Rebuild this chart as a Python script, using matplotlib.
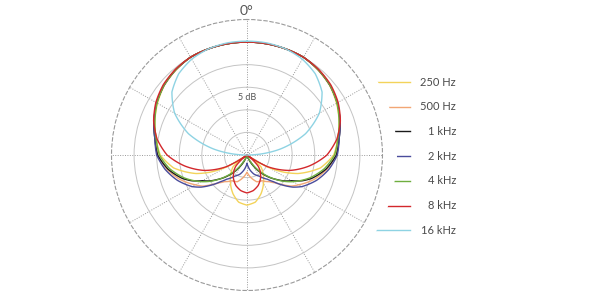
import matplotlib
matplotlib.use("Agg")
import matplotlib.pyplot as plt
import numpy as np
from matplotlib.patches import Circle

plt.rcParams['font.family'] = ['Lato', 'DejaVu Sans']

# angles (degrees off axis, one half - the pattern is symmetric)
angles = [0, 10, 20, 30, 40, 50, 60, 70, 80, 90, 100, 110, 115, 120, 125, 130, 135, 140, 150, 160, 170, 180]

# level in dB relative to on-axis
hz250 = [0, 0, 0, 0, -0.5, -1.1, -2.1, -3.3, -4.6, -5.8, -8.5, -13.0, -16.0, -19.5, -25, -21.0, -20.2, -19.4, -17.7, -15.9, -14.4, -13.9]
hz500 = [0, 0, 0, 0, -0.4, -1.0, -1.9, -3.1, -4.4, -5.3, -7.0, -9.2, -10.5, -11.8, -13.0, -14.8, -16.3, -17.3, -18.4, -18.7, -19.9, -21.2]
khz1 = [0, 0, 0, 0, -0.4, -1.0, -1.9, -3.1, -4.3, -5.2, -7.2, -9.8, -11.5, -13.6, -15.0, -16.6, -18.0, -19.5, -22.3, -24.5, -25, -25]
khz2 = [0, 0, 0, 0, -0.4, -1.0, -1.9, -3.1, -4.3, -5.0, -6.6, -8.6, -9.8, -11.0, -12.6, -14.6, -16.6, -18.0, -19.6, -20.5, -21.8, -23.2]
khz4 = [0, 0, 0, 0, -0.4, -1.0, -2.0, -3.3, -4.6, -5.6, -7.6, -10.2, -11.7, -13.2, -14.8, -16.5, -18.2, -19.8, -22.8, -24.8, -25, -25]
khz8 = [0, 0, 0, 0, -0.3, -0.8, -1.7, -3.0, -4.8, -7.3, -11.0, -15.0, -17.5, -20.0, -25, -23.5, -21.5, -20.5, -19.0, -17.8, -17.0, -16.6]
khz16 = [0.2, 0.2, 0, -0.5, -1.5, -3.3, -6.5, -11.2, -17.6, -25, -25, -25, -25, -25, -25, -25, -25, -25, -25, -25, -25, -25]

series = [hz250, hz500, khz1, khz2, khz4, khz8, khz16]
labels = ['250 Hz', '500 Hz', '1 kHz', '2 kHz', '4 kHz', '8 kHz', '16 kHz']
colors = ['#f3d35a', '#f2a675', '#1a1a1a', '#4a4c9c', '#6fae3f', '#d3282c', '#8ed3e3']

fig = plt.figure(figsize=(6, 3), dpi=100)

# background layer in pixel units for the legend
bg = fig.add_axes([0, 0, 1, 1])
bg.set_xlim(0, 600)
bg.set_ylim(300, 0)
bg.axis('off')
for i, (lab, col) in enumerate(zip(labels, colors)):
    y = 82 + i * 24.7
    bg.plot([375, 410], [y, y], color=col, lw=1.0, zorder=2)
    bg.text(456, y, lab, ha='right', va='center', fontsize=8, color='#4a4a4a')
# the legend strokes stop short of the chart
bg.add_patch(Circle((247, 155), 150, fc='white', ec='none', zorder=3))

ax = fig.add_axes([0.1858, 0.0317, 0.4517, 0.9033], projection='polar')
ax.set_theta_zero_location('N')
ax.set_theta_direction(-1)

a = np.array(angles, dtype=float)
theta = np.deg2rad(np.concatenate([a, 360 - a[::-1][1:]]))
for vals, col in zip(series, colors):
    v = np.array(vals, dtype=float)
    r = np.concatenate([v, v[::-1][1:]])
    ln, = ax.plot(theta, r, color=col, lw=1.0)
    ln.get_path()._interpolation_steps = 20

ax.set_ylim(-25, 5)
ax.set_yticks([-20, -15, -10, -5, 0])
ax.set_xticks(np.deg2rad(np.arange(0, 360, 30)))
ax.set_xticklabels([])
ax.set_yticklabels([])
ax.xaxis.grid(True, color='#9a9a9a', linestyle=(0, (1, 1.5)), lw=0.7)
ax.yaxis.grid(True, color='#c4c4c4', linestyle='-', lw=0.7)
ax.spines['polar'].set_linestyle((0, (3, 2.5)))
ax.spines['polar'].set_color('#9a9a9a')
ax.spines['polar'].set_linewidth(0.8)
ax.tick_params(length=0, pad=0)

ax.text(0, -12.3, '5 dB', ha='center', va='center', fontsize=6.5, color='#555555',
        bbox=dict(boxstyle='round,pad=0.25', fc='white', ec='none'))

fig.text(247 / 600, 1 - 11 / 300, '0°', ha='center', va='center', fontsize=10, color='#555555')

fig.savefig('out.png', dpi=100)
